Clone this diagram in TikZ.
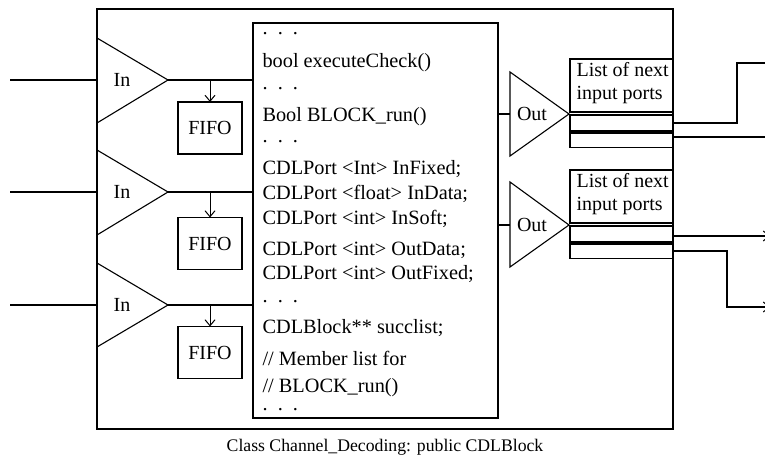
\documentclass[tikz,border=0pt]{standalone}
\usepackage{fontspec}
\setmainfont{Liberation Serif}
\usetikzlibrary{arrows.meta}
\begin{document}
\begin{tikzpicture}[x=1pt,y=-1pt,line width=1.1pt,
  box/.style={draw,inner sep=0pt,outer sep=0pt},
  code/.style={anchor=base west,inner sep=0pt,font=\fontsize{20.3}{23}\selectfont},
  dots/.style={code,text height=3pt,text depth=0pt},
  lbl/.style={inner sep=0pt,font=\fontsize{20}{23}\selectfont},
  feed/.style={-{Straight Barb[length=6pt,width=10pt,line width=1pt]},line width=1pt},
  wire/.style={line width=1.1pt}]
\useasboundingbox (0,0) rectangle (765,462);

% class frame
\draw (97,9) rectangle (673,429);
\node[lbl,font=\fontsize{17.7}{20}\selectfont] (caption) at (385,447) {Class Channel\_Decoding: public CDLBlock};

% member listing
\node[box,minimum width=245pt,minimum height=395pt] (codebox) at (375.5,220.5) {};
\node[dots] (c1)  at (262,35)  {.\ \ .\ \ .};
\node[code] (c2)  at (262,68)  {bool executeCheck()};
\node[dots] (c3)  at (262,90)  {.\ \ .\ \ .};
\node[code] (c4)  at (262,122) {Bool BLOCK\_run()};
\node[dots] (c5)  at (262,143) {.\ \ .\ \ .};
\node[code] (c6)  at (262,175) {CDLPort <Int> InFixed;};
\node[code] (c7)  at (262,200) {CDLPort <float> InData;};
\node[code] (c8)  at (262,225) {CDLPort <int> InSoft;};
\node[code] (c9)  at (262,255) {CDLPort <int> OutData;};
\node[code] (c10) at (262,279) {CDLPort <int> OutFixed;};
\node[dots] (c11) at (262,302) {.\ \ .\ \ .};
\node[code] (c12) at (262,333) {CDLBlock** succlist;};
\node[code] (c13) at (262,365) {// Member list for};
\node[code] (c14) at (262,392) {// BLOCK\_run()};
\node[dots] (c15) at (262,410) {.\ \ .\ \ .};

% input ports with their FIFOs
\foreach \i/\yc/\ytop/\ybot/\fy in {1/80/38/123/128, 2/192/150/235/243.5, 3/305/263/347/352.5}{
  \coordinate (in\i a) at (97,\ytop);
  \coordinate (in\i b) at (97,\ybot);
  \coordinate (in\i tip) at (168,\yc);
  \coordinate (src\i) at (10,\yc);
  \draw (in\i a) -- (in\i tip) -- (in\i b);
  \node[lbl] (in\i lab) at (122,\yc) {In};
  \draw[wire] (src\i) -- (src\i -| in\i a);
  \draw[wire] (in\i tip) -- (in\i tip -| codebox.west);
  \node[box,minimum width=64pt,minimum height=52pt] (fifo\i) at (210,\fy) {};
  \node[lbl] (fifo\i lab) at (fifo\i) {FIFO};
  \draw[feed] (in\i tip -| fifo\i.north) -- (fifo\i.north);
}

% output ports with successor lists
\foreach \j/\yc/\ytop/\ybot/\lt in {1/114/72/156/59, 2/225/182/267/170}{
  \coordinate (out\j a) at (510,\ytop);
  \coordinate (out\j b) at (510,\ybot);
  \coordinate (out\j tip) at (569,\yc);
  \draw (out\j a) -- (out\j tip) -- (out\j b) -- cycle;
  \node[lbl] (out\j lab) at (532,\yc) {Out};
  \draw[wire] (codebox.east |- out\j tip) -- (out\j a |- out\j tip);
  \node[box,anchor=north west,minimum width=103pt,minimum height=53pt] (list\j) at (570,\lt) {};
  \node[lbl,anchor=north west,align=left] (list\j lab) at (576,\lt+3) {List of next\\input ports};
  \node[box,anchor=north west,minimum width=103pt,minimum height=16pt] (slot\j a) at (570,\lt+56) {};
  \node[box,anchor=north west,minimum width=103pt,minimum height=14.5pt] (slot\j b) at (570,\lt+74) {};
}

% links to the next blocks
\coordinate (n1) at (737,63);
\coordinate (n2) at (770,63);
\coordinate (n3) at (770,137);
\coordinate (n4) at (770,236);
\coordinate (n5) at (727,307);
\coordinate (n6) at (770,307);
\draw[wire] (slot1a.east |- 0,123) -| (n1) -- (n2);
\draw[wire] (slot1b.east |- n3) -- (n3);
\draw[feed,line width=1.1pt] (slot2a.east |- n4) -- (n4);
\draw[feed,line width=1.1pt] (slot2b.east |- 0,251) -| (n5) -- (n6);
\end{tikzpicture}
\end{document}
